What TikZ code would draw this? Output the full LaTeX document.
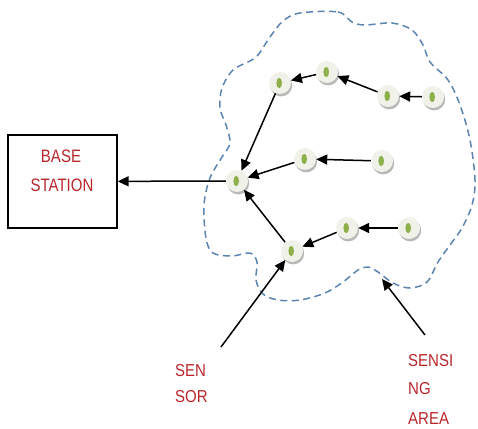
\documentclass[tikz,border=0pt]{standalone}
\usepackage{fontspec}
\usepackage{graphicx}
\setmainfont{Liberation Sans}
\usetikzlibrary{arrows.meta,shadows}
\definecolor{lblred}{HTML}{B8262B}
\definecolor{cloudblue}{HTML}{5B84B0}
\definecolor{dotgreen}{HTML}{8DB04A}
\definecolor{discfill}{HTML}{F0F2EA}
\tikzset{
  sensornode/.style={circle, minimum size=22pt, inner sep=0pt, fill=discfill,
    drop shadow={shadow xshift=1.2pt, shadow yshift=-2.4pt, fill=black!28, opacity=1},
    path picture={\fill[dotgreen] ([xshift=-0.8pt]path picture bounding box.center) ellipse [x radius=2.8pt, y radius=5.2pt];}},
  link/.style={line width=1.5pt, -{Triangle[length=11pt,width=10pt]}},
  lbl/.style={text=lblred, font=\fontsize{15}{17}\selectfont, inner sep=0pt},
  basebox/.style={draw, line width=1.4pt, minimum width=109pt, minimum height=93pt, inner sep=0pt},
  cloud/.style={cloudblue, line width=1.5pt, dash pattern=on 7pt off 4.5pt}
}
\begin{document}
\begin{tikzpicture}[x=1pt,y=-1pt]
\useasboundingbox (0,0) rectangle (478,428);
% sensing area
\draw[cloud] plot[smooth cycle, tension=0.55] coordinates {
 (300,13) (338,12) (352,22) (365,25) (392,23) (412,30) (423,45) (430,62) (448,80)
 (460,105) (470,140) (475,180) (472,205) (462,228) (450,245) (438,262) (427,282)
 (410,288) (393,283) (378,272) (368,267) (358,270) (343,282) (325,293) (300,300)
 (278,300) (263,294) (256,280) (257,262) (250,253) (232,256) (213,253) (206,238)
 (204,205) (210,178) (222,157) (230,143) (226,125) (220,108) (222,88) (233,70)
 (250,61) (258,55) (270,37) (283,21)};
% base station
\node[basebox] (base) at (62.5,181.5) {};
\node[lbl] (baset1) at (61,156) {\scalebox{1}[1.2]{BASE}};
\node[lbl] (baset2) at (62,185) {\scalebox{1}[1.2]{STATION}};
% sensors
\node[sensornode] (hub) at (237,181) {};
\node[sensornode] (n1) at (280,83) {};
\node[sensornode] (n2) at (327,72) {};
\node[sensornode] (n3) at (388,96) {};
\node[sensornode] (n4) at (433,97) {};
\node[sensornode] (m1) at (305,159) {};
\node[sensornode] (m2) at (382,161) {};
\node[sensornode] (s) at (292,251) {};
\node[sensornode] (b1) at (347,228) {};
\node[sensornode] (b2) at (409,228) {};
% links
\draw[link] (n4) -- (n3);
\draw[link] (n3) -- (n2);
\draw[link] (n2) -- (n1);
\draw[link] (n1) -- (hub);
\draw[link] (m2) -- (m1);
\draw[link] (m1) -- (hub);
\draw[link] (b2) -- (b1);
\draw[link] (b1) -- (s);
\draw[link] (s) -- (hub);
\draw[link] (hub) -- (base);
% labels
\coordinate (senstart) at (221,347);
\coordinate (areastart) at (425,335);
\coordinate (areaend) at (382,279);
\draw[link] (senstart) -- (s);
\draw[link] (areastart) -- (areaend);
\node[lbl, anchor=west] (sen1) at (175,371) {\scalebox{1}[1.15]{SEN}};
\node[lbl, anchor=west] (sen2) at (175,397) {\scalebox{1}[1.15]{SOR}};
\node[lbl, anchor=west] (area1) at (408,361) {\scalebox{1}[1.15]{SENSI}};
\node[lbl, anchor=west] (area2) at (408,389) {\scalebox{1}[1.15]{NG}};
\node[lbl, anchor=west] (area3) at (408,419) {\scalebox{1}[1.15]{AREA}};
\end{tikzpicture}
\end{document}
